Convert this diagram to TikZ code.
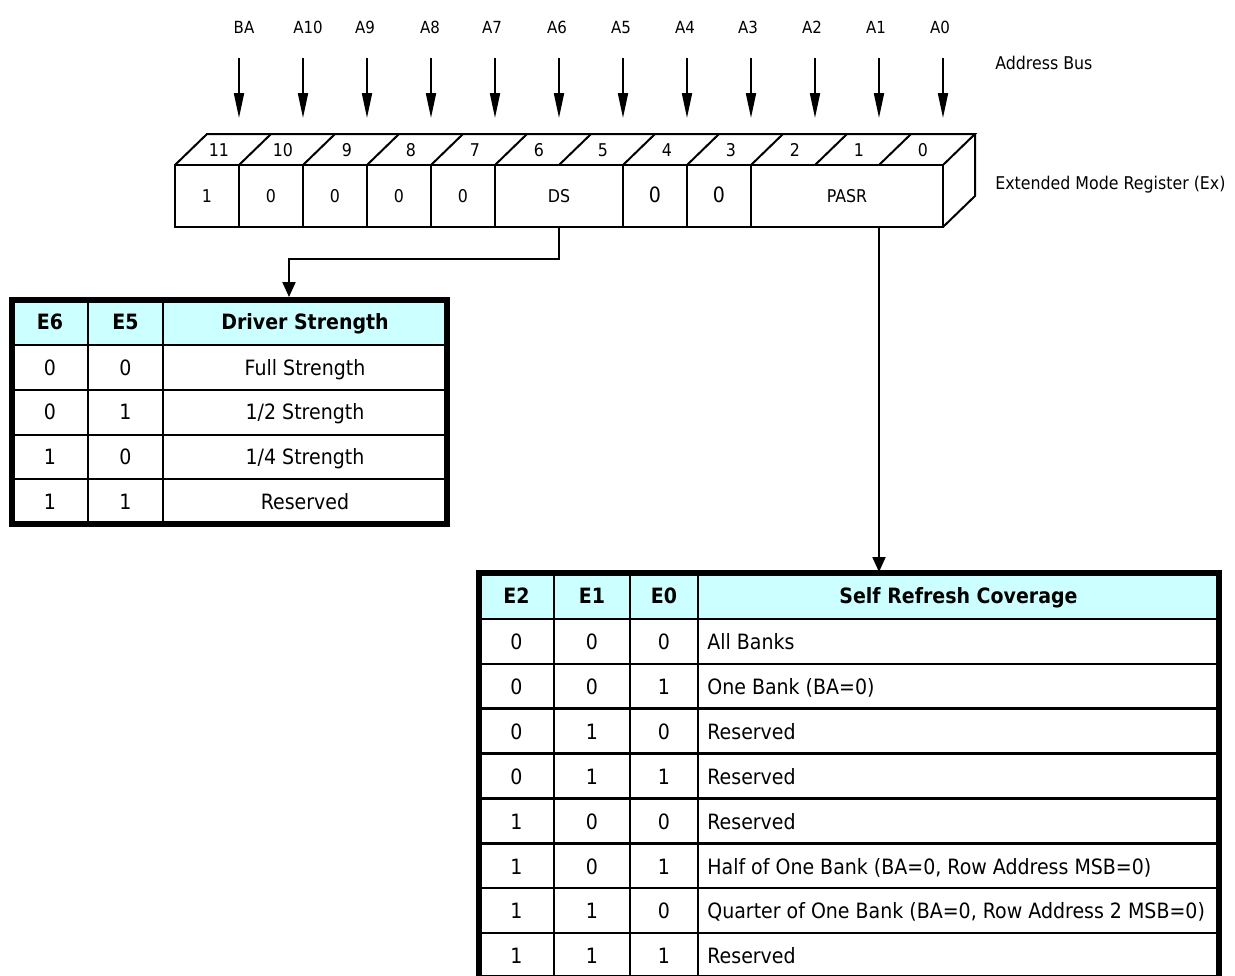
\documentclass[tikz,border=0pt]{standalone}
\usepackage{fontspec}
\setmainfont[FakeStretch=0.9]{DejaVu Sans}
\usetikzlibrary{arrows.meta, calc}
\definecolor{hdrcyan}{HTML}{CCFFFF}
\tikzset{
  every picture/.style={line join=miter},
  reg/.style={line width=0.4mm},
  cell/.style={draw, line width=0.4mm, minimum height=12.4mm, inner sep=0pt, text height=0.73em, text depth=0pt, font=\fontsize{10}{12}\selectfont},
  bitno/.style={inner sep=0pt, text height=0.73em, text depth=0pt, font=\fontsize{10}{12}\selectfont},
  buslbl/.style={inner sep=0pt, text height=0.73em, text depth=0pt, font=\fontsize{9.5}{11}\selectfont},
  side/.style={inner sep=0pt, anchor=west, text height=0.73em, text depth=0pt, font=\fontsize{10}{12}\selectfont},
  bus/.style={line width=0.4mm, -{Triangle[length=5mm, width=2mm]}},
  link/.style={line width=0.4mm, -{Triangle[length=3mm, width=2.6mm]}},
  rule/.style={line width=0.5mm},
  tabframe/.style={line width=1.1mm},
  tabtxt/.style={inner sep=0pt, text height=0.73em, text depth=0pt, font=\fontsize{12}{14}\selectfont},
  tabhdr/.style={inner sep=0pt, text height=0.73em, text depth=0pt, font=\bfseries\fontsize{12}{14}\selectfont},
}

\begin{document}
\begin{tikzpicture}[x=0.2mm, y=-0.2mm]
  \clip (0,0) rectangle (1235,975);
  % ---------------- address bus
  \foreach \b/\lbl/\lx [count=\i from 0] in {11/BA/244,10/A10/308,9/A9/365,8/A8/430,7/A7/492,6/A6/557,5/A5/621,4/A4/685,3/A3/748,2/A2/812,1/A1/876,0/A0/940}{
    \node[buslbl] (bus\b) at (\lx,27) {\lbl};
    \coordinate (bh\b) at (239+64*\i,118);
    \draw[bus] (bus\b.south -| bh\b) ++(0,24) -- (bh\b);
  }
  \node[side] (buslabel) at (995,63) {Address Bus};
  % ---------------- register, front face
  \foreach \b/\v [count=\i from 0] in {11/1,10/0,9/0,8/0,7/0}
    \node[cell, minimum width=12.8mm] (f\b) at (207+64*\i,196) {\v};
  \node[cell, minimum width=25.6mm] (ds) at (559,196) {DS};
  \node[cell, minimum width=12.8mm, font=\fontsize{12}{14}\selectfont] (f4) at (655,196) {0};
  \node[cell, minimum width=12.8mm, font=\fontsize{12}{14}\selectfont] (f3) at (719,196) {0};
  \node[cell, minimum width=38.4mm] (pasr) at (847,196) {PASR};
  % top and side faces
  \draw[reg] (175,165) -- (207,134) -- (975,134) -- (943,165);
  \draw[reg] (975,134) -- (975,196) -- (943,227);
  \foreach \i in {1,...,11} \draw[reg] (175+64*\i,165) -- ++(32,-31);
  \foreach \b [count=\i from 0] in {11,10,...,0}
    \node[bitno] (t\b) at (219+64*\i,150) {\b};
  \node[side] (reglabel) at (995,183) {Extended Mode Register (Ex)};
  % ---------------- connectors
  \coordinate (dsin) at (289,297);
  \coordinate (srcin) at (879,572);
  \draw[link] (ds.south) -- ++(0,31) -| (dsin);
  \draw[link] (pasr.south -| srcin) -- (srcin);
  % ---------------- driver strength table
  \fill[hdrcyan] (12,300) rectangle (447,345);
  \foreach \y in {345,390,435,479} \draw[rule] (12,\y) -- (447,\y);
  \foreach \x in {88,163} \draw[rule] (\x,300) -- (\x,524);
  \draw[tabframe] (12,300) rectangle (447,524);
  \node[tabhdr] (dsh1) at (50,323) {E6};
  \node[tabhdr] (dsh2) at (125.5,323) {E5};
  \node[tabhdr] (dsh3) at (305,323) {Driver Strength};
  \foreach \a/\c/\t [count=\r] in {0/0/{Full Strength},0/1/{1/2 Strength},1/0/{1/4 Strength},1/1/Reserved}{
    \node[tabtxt] (dsa\r) at (50,345+44.75*\r-21) {\a};
    \node[tabtxt] (dsb\r) at (125.5,345+44.75*\r-21) {\c};
    \node[tabtxt] (dsc\r) at (305,345+44.75*\r-21) {\t};
  }
  % ---------------- self refresh coverage table
  \fill[hdrcyan] (479,573) rectangle (1219,619);
  \foreach \k in {0,...,7} \draw[rule] (479,619+44.86*\k) -- (1219,619+44.86*\k);
  \foreach \x in {554,630,698} \draw[rule] (\x,573) -- (\x,985);
  \draw[tabframe] (479,573) rectangle (1219,978);
  \node[tabhdr] (srh1) at (516.5,597) {E2};
  \node[tabhdr] (srh2) at (592,597) {E1};
  \node[tabhdr] (srh3) at (664,597) {E0};
  \node[tabhdr] (srh4) at (958.5,597) {Self Refresh Coverage};
  \foreach \a/\c/\e/\t [count=\r] in {0/0/0/{All Banks},0/0/1/{One Bank (BA=0)},0/1/0/Reserved,0/1/1/Reserved,1/0/0/Reserved,1/0/1/{Half of One Bank (BA=0, Row Address MSB=0)},1/1/0/{Quarter of One Bank (BA=0, Row Address 2 MSB=0)},1/1/1/Reserved}{
    \node[tabtxt] (sra\r) at (516.5,619+44.86*\r-20.5) {\a};
    \node[tabtxt] (srb\r) at (592,619+44.86*\r-20.5) {\c};
    \node[tabtxt] (src\r) at (664,619+44.86*\r-20.5) {\e};
    \node[tabtxt, anchor=west] (srd\r) at (707,619+44.86*\r-20.5) {\t};
  }
\end{tikzpicture}
\end{document}
